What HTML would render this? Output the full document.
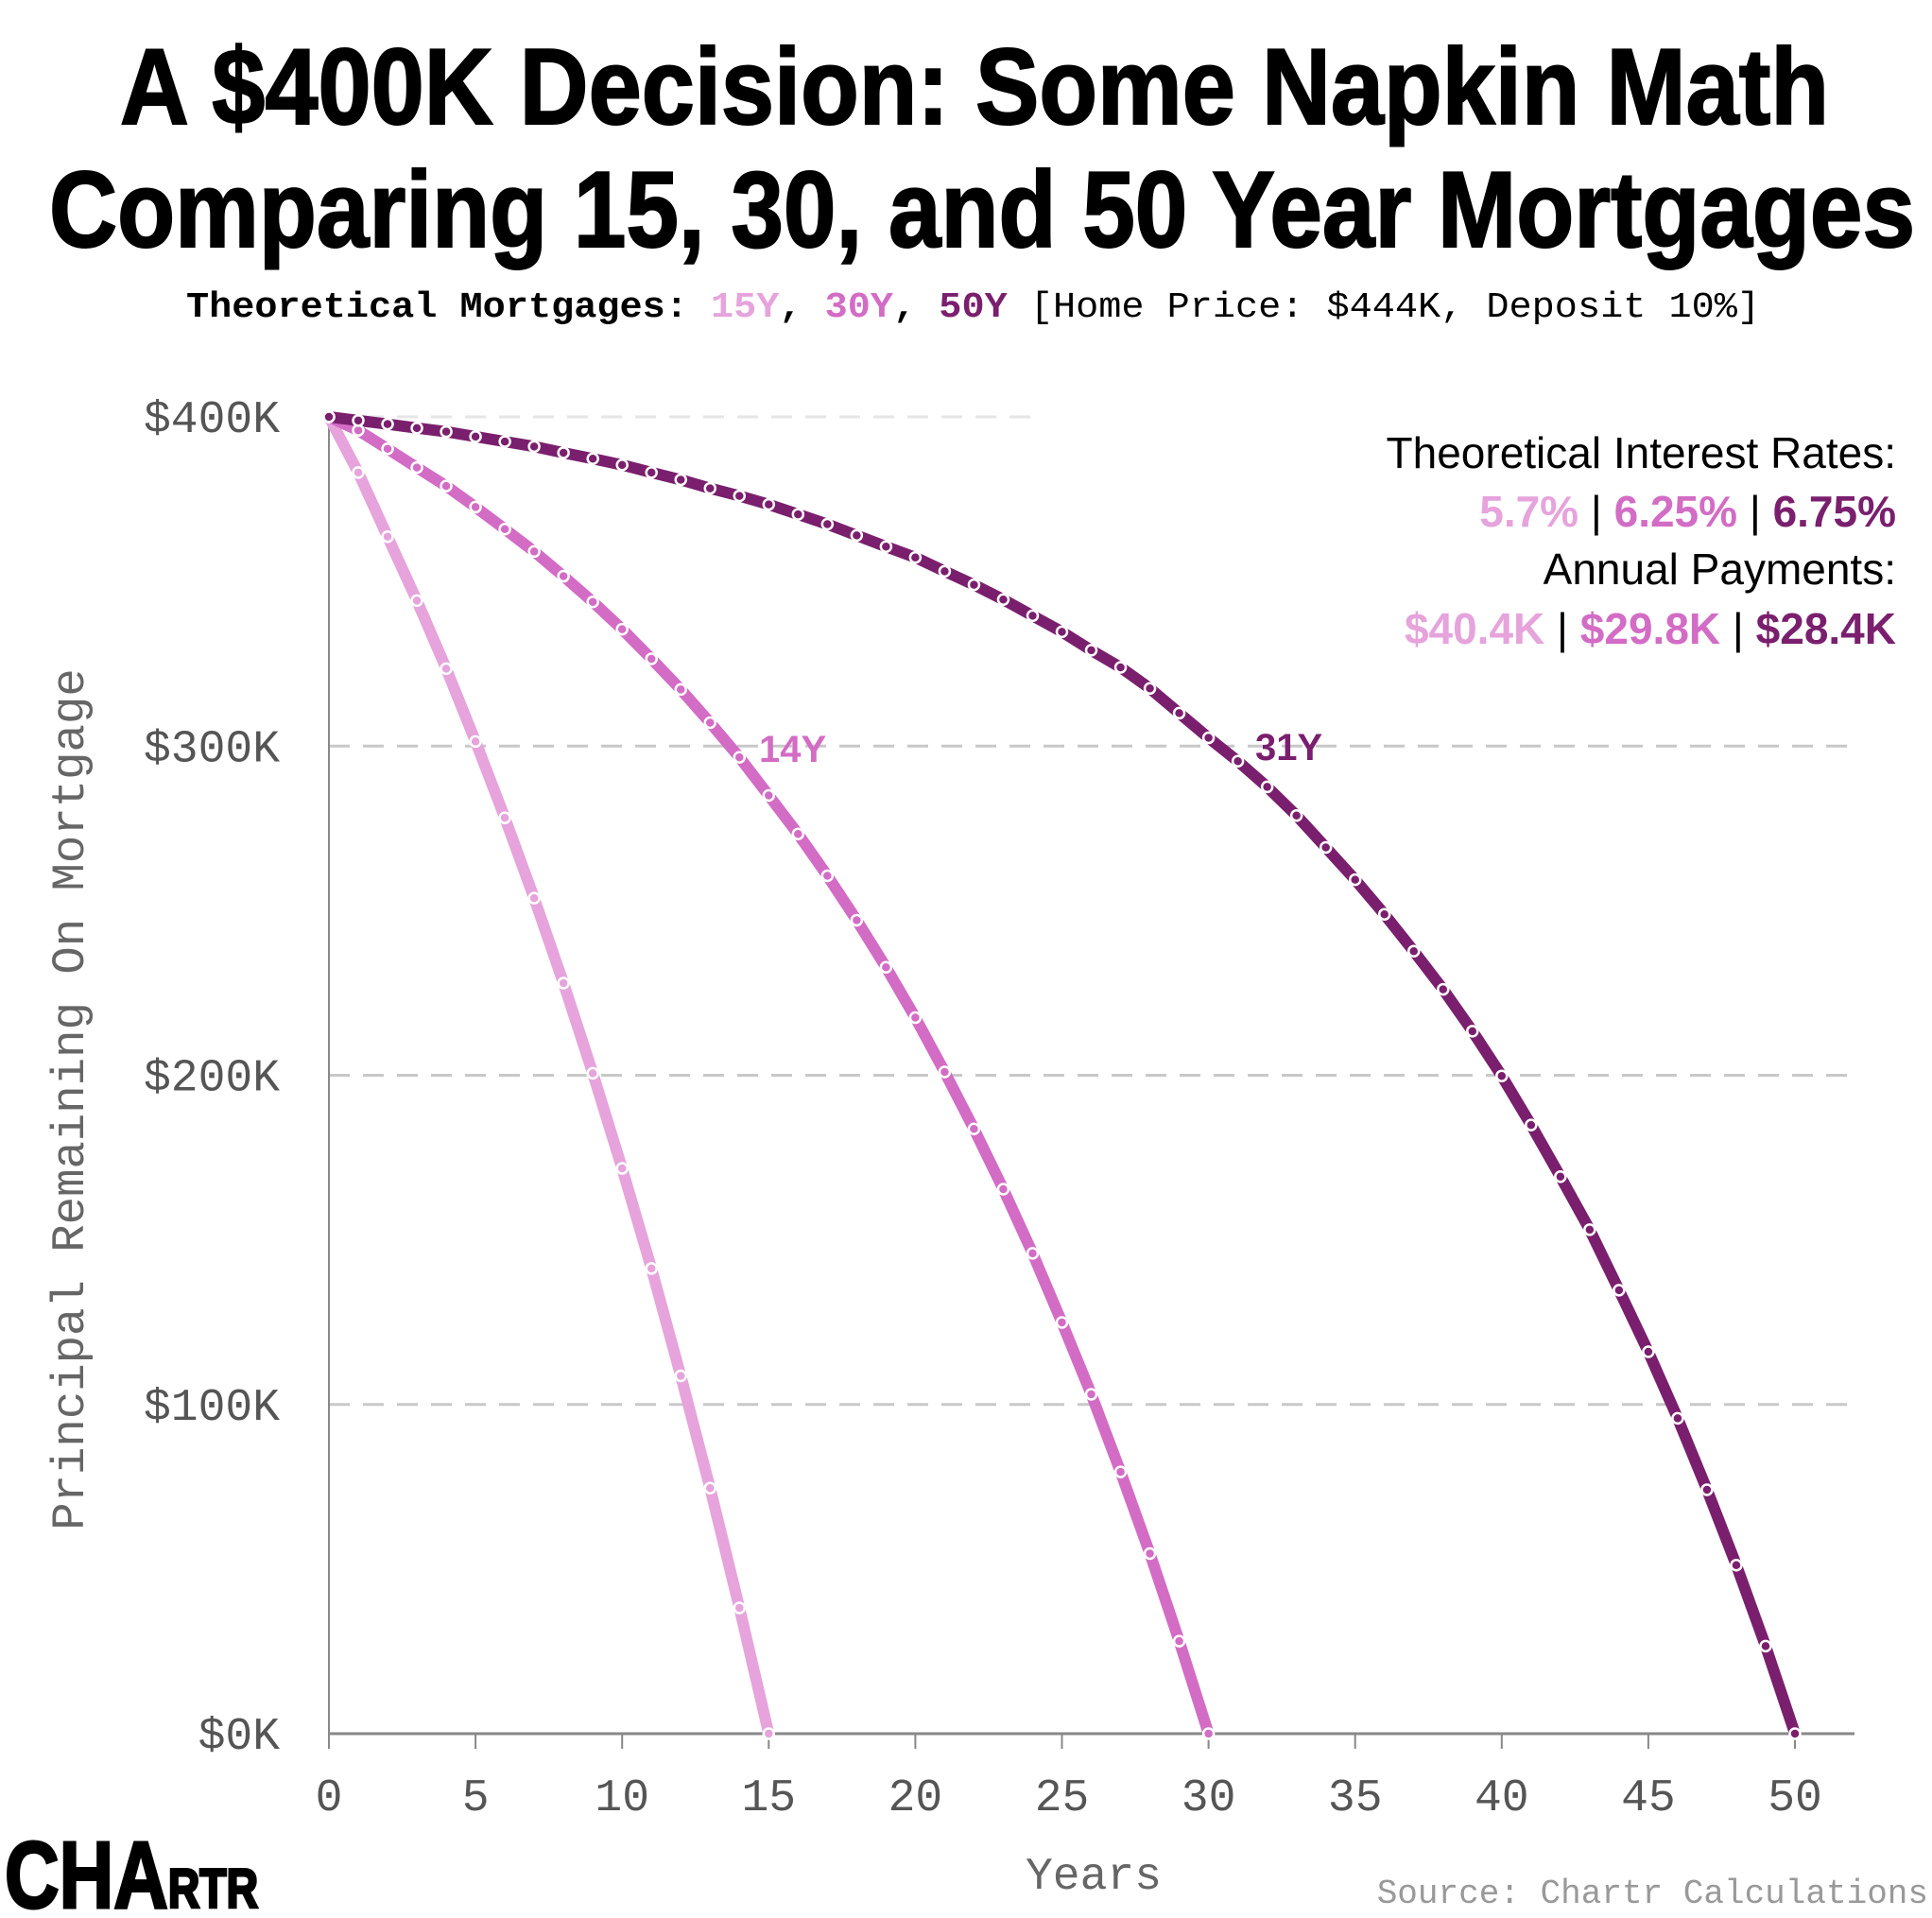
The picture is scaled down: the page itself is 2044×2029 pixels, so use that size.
<!DOCTYPE html>
<html><head><meta charset="utf-8"><style>
html,body{margin:0;padding:0;background:#fff;}
svg{display:block;}
.mono{font-family:"Liberation Mono","DejaVu Sans Mono",monospace;}
.sans{font-family:"Liberation Sans","DejaVu Sans",sans-serif;}
.narrow{font-family:"Liberation Sans Narrow","Liberation Sans",sans-serif;}
</style></head><body>
<svg id="chart" width="2044" height="2029" viewBox="0 0 2044 2029" xmlns="http://www.w3.org/2000/svg">
<rect width="2044" height="2029" fill="#fff"/>
<text class="narrow" x="127" y="131" font-size="114" font-weight="bold" textLength="1808" lengthAdjust="spacingAndGlyphs" fill="#000" stroke="#000" stroke-width="2">A $400K Decision: Some Napkin Math</text>
<text class="narrow" x="52" y="261" font-size="114" font-weight="bold" textLength="1974" lengthAdjust="spacingAndGlyphs" fill="#000" stroke="#000" stroke-width="2">Comparing 15, 30, and 50 Year Mortgages</text>
<text class="mono" x="197" y="335" font-size="38" textLength="1665" lengthAdjust="spacingAndGlyphs" fill="#000"><tspan font-weight="bold">Theoretical Mortgages: </tspan><tspan font-weight="bold" fill="#E6A3DC">15Y</tspan><tspan font-weight="bold">, </tspan><tspan font-weight="bold" fill="#D36CC5">30Y</tspan><tspan font-weight="bold">, </tspan><tspan font-weight="bold" fill="#7A1F6E">50Y</tspan> [Home Price: $444K, Deposit 10%]</text>

<g id="grid"></g>
<g id="axes"></g>
<g id="series"></g>

<text class="mono" transform="translate(88,1163) rotate(-90)" text-anchor="middle" font-size="49" fill="#666">Principal Remaining On Mortgage</text>
<text class="mono" x="1157" y="1998" text-anchor="middle" font-size="48" fill="#666">Years</text>
<text class="mono" x="2040" y="2013" text-anchor="end" font-size="36" fill="#999">Source: Chartr Calculations</text>
<text class="sans" x="5" y="2018" font-size="100" font-weight="bold" textLength="268" lengthAdjust="spacingAndGlyphs" fill="#000" stroke="#000" stroke-width="3">CHA<tspan font-size="58">RTR</tspan></text>

<text class="sans" x="803" y="806" font-size="40" font-weight="bold" fill="#D36CC5">14Y</text>
<text class="sans" x="1328" y="804" font-size="40" font-weight="bold" fill="#7A1F6E">31Y</text>

<g class="narrow" text-anchor="end">
<text x="2006" y="495" font-size="46" fill="#000">Theoretical Interest Rates:</text>
<text x="2006" y="557" font-size="46" font-weight="bold"><tspan fill="#E6A3DC">5.7%</tspan><tspan fill="#000" font-weight="normal"> | </tspan><tspan fill="#D36CC5">6.25%</tspan><tspan fill="#000" font-weight="normal"> | </tspan><tspan fill="#7A1F6E">6.75%</tspan></text>
<text x="2006" y="618" font-size="46" fill="#000">Annual Payments:</text>
<text x="2006" y="681" font-size="46" font-weight="bold"><tspan fill="#E6A3DC">$40.4K</tspan><tspan fill="#000" font-weight="normal"> | </tspan><tspan fill="#D36CC5">$29.8K</tspan><tspan fill="#000" font-weight="normal"> | </tspan><tspan fill="#7A1F6E">$28.4K</tspan></text>
</g>
</svg>
<script>
const yTicks = [0, 100, 200, 300, 400];
const xTicks = [0, 5, 10, 15, 20, 25, 30, 35, 40, 45, 50];
const values15 = [400,383.1,363.6,344.2,323.5,301.4,278.2,253.8,228.0,200.6,171.7,141.3,108.7,74.6,38.2,0];
const values30 = [400,395.9,390.3,384.6,379.0,372.6,365.9,359.1,351.6,343.8,335.5,326.5,317.2,307.1,296.6,285.0,273.3,260.6,247.1,232.8,217.5,201.0,183.7,165.4,145.9,124.9,103.1,79.5,54.7,28.1,0];
const values50 = [400,398.9,397.8,396.6,395.5,394.0,392.5,391.0,389.1,387.3,385.4,383.1,380.9,378.3,376.0,373.4,370.4,367.4,364.0,360.6,357.3,353.1,349.0,344.5,339.6,334.7,329.1,323.9,317.5,310.0,302.5,295.4,287.6,278.9,269.2,259.4,248.9,237.7,226.1,213.4,199.8,184.9,169.2,153.1,134.7,116.0,95.8,74.1,51.2,26.6,0];
const seriesNames = ['15Y', '30Y', '50Y'];

const NS = 'http://www.w3.org/2000/svg';
const X0 = 348, X1 = 1899, XEND = 1962, Y0 = 1834, Y1 = 441;
function xs(v){ return X0 + (X1 - X0) * v / 50; }
function ys(v){ return Y0 - (Y0 - Y1) * v / 400; }
function mk(tag, attrs, parent){ const e = document.createElementNS(NS, tag); for (const k in attrs) e.setAttribute(k, attrs[k]); parent.appendChild(e); return e; }

const grid = document.getElementById('grid');
const axes = document.getElementById('axes');
const series = document.getElementById('series');

yTicks.forEach(function(t){
  if (t > 0) {
    const g = mk('line', {x1: X0, x2: t === 400 ? 1100 : XEND, y1: ys(t), y2: ys(t), stroke: t === 400 ? '#e6e6e6' : '#c8c8c8', 'stroke-width': 3, 'stroke-dasharray': '22 14'}, grid);
    
    
  }
  const lbl = mk('text', {x: 296, y: ys(t) + 16, 'text-anchor': 'end', 'font-size': 48, fill: '#555', 'class': 'mono'}, axes);
  lbl.textContent = '$' + t + 'K';
  
  
});

const yAxis = mk('line', {x1: X0, x2: X0, y1: Y1, y2: Y0, stroke: '#888', 'stroke-width': 2}, axes);


const xAxis = mk('line', {x1: X0, x2: XEND, y1: Y0, y2: Y0, stroke: '#888', 'stroke-width': 3}, axes);



xTicks.forEach(function(t){
  const tk = mk('line', {x1: xs(t), x2: xs(t), y1: Y0, y2: Y0 + 16, stroke: '#888', 'stroke-width': 2}, axes);
  
  
  const lbl = mk('text', {x: xs(t), y: 1915, 'text-anchor': 'middle', 'font-size': 48, fill: '#555', 'class': 'mono'}, axes);
  lbl.textContent = String(t);
  
  
});

const allValues = [values15, values30, values50];
const colors = ['#E6A3DC', '#D36CC5', '#7A1F6E'];
allValues.forEach(function(vals, si){
  const d = vals.map(function(v, i){ return (i ? 'L' : 'M') + xs(i) + ',' + ys(v); }).join(' ');
  const p = mk('path', {d: d, fill: 'none', stroke: colors[si], 'stroke-width': 12, 'stroke-linejoin': 'round'}, series);
  
  
});
allValues.forEach(function(vals, si){
  vals.forEach(function(v, i){
    const c = mk('circle', {cx: xs(i), cy: ys(v), r: 5.5, fill: colors[si], stroke: '#fff', 'stroke-width': 2.5}, series);
    
    
  });
});
</script>
</body></html>
